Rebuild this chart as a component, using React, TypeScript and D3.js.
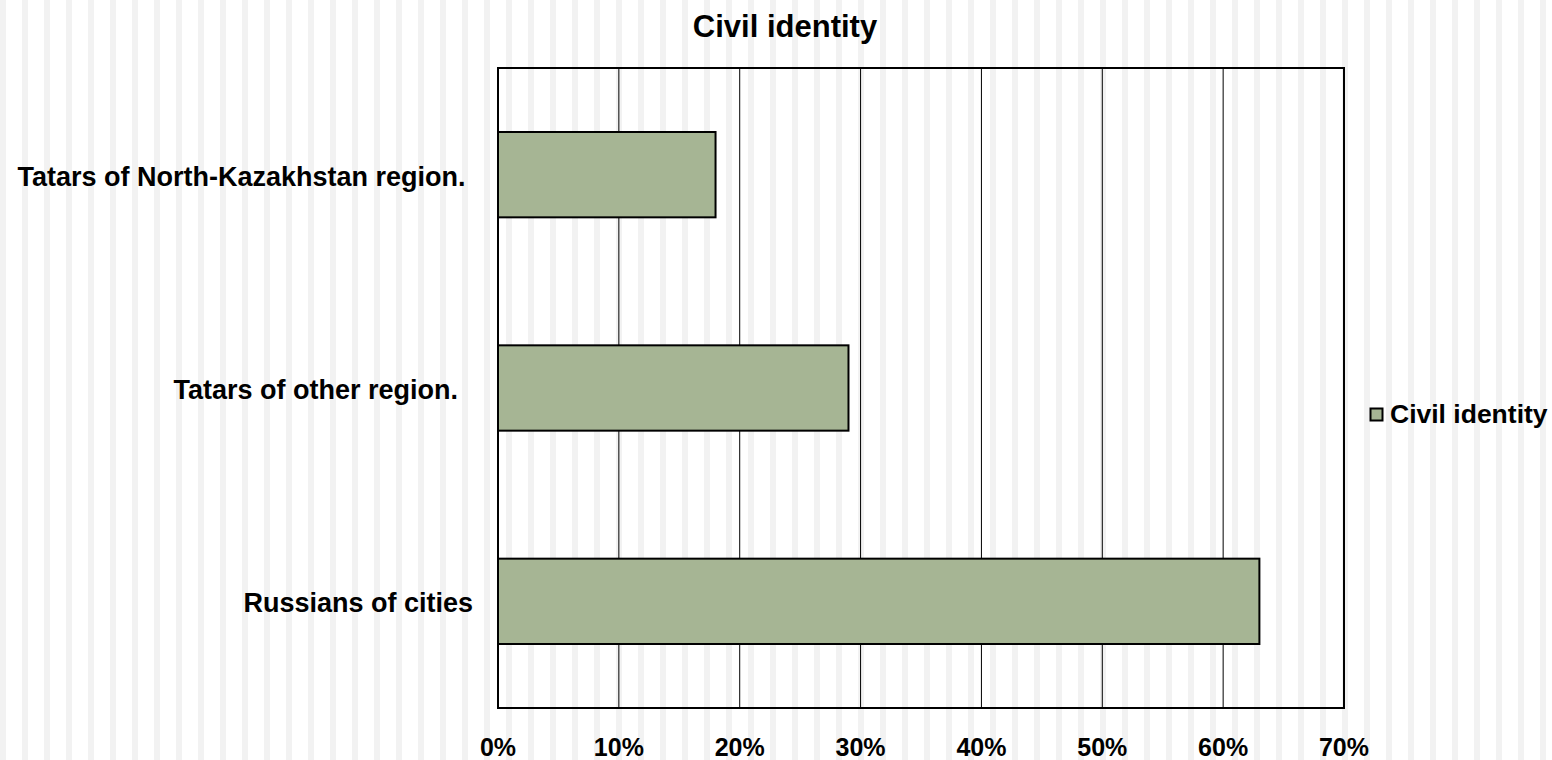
import React from "react";
import * as d3 from "d3";

const title = "Civil identity";
const seriesName = "Civil identity";
// Category names as in the source sheet (trailing spaces included)
const categories = ["Tatars of North-Kazakhstan region. ", "Tatars of other region.  ", "Russians of cities"];
const values = [0.18, 0.29, 0.63];
const xTicks = [0, 0.1, 0.2, 0.3, 0.4, 0.5, 0.6, 0.7];

const W = 1552;
const H = 760;
const plot = { left: 498, right: 1344, top: 68, bottom: 708 };
const font = "'Liberation Sans', Arial, sans-serif";
const barFill = "#a6b594";

export default function App() {
  const x = d3.scaleLinear().domain([0, 0.7]).range([plot.left, plot.right]);
  const y = d3
    .scaleBand<string>()
    .domain(categories)
    .range([plot.top, plot.bottom])
    .paddingInner(0.6)
    .paddingOuter(0.3);
  const fmt = d3.format(".0%");
  const stripes = d3.range(0, W, 22);

  return (
    <div style={{ position: "absolute", left: 0, top: 0 }}>
      <svg width={W} height={H} style={{ display: "block" }} fontFamily={font}>
        <rect x={0} y={0} width={W} height={H} fill="#ffffff" />
        {stripes.map((s) => (
          <rect key={s} x={s} y={0} width={6} height={H} fill="#f2f2f2" />
        ))}

        {/* vertical gridlines */}
        {xTicks.slice(1, -1).map((t) => (
          <line
            key={t}
            x1={x(t)}
            x2={x(t)}
            y1={plot.top}
            y2={plot.bottom}
            stroke="#000"
            strokeWidth={1}
          />
        ))}

        {/* bars */}
        {categories.map((c, i) => (
          <rect
            key={c}
            x={x(0)}
            y={y(c)}
            width={x(values[i]) - x(0)}
            height={y.bandwidth()}
            fill={barFill}
            stroke="#000"
            strokeWidth={2}
          />
        ))}

        {/* plot frame */}
        <rect
          x={plot.left}
          y={plot.top}
          width={plot.right - plot.left}
          height={plot.bottom - plot.top}
          fill="none"
          stroke="#000"
          strokeWidth={2}
        />

        {/* category labels */}
        {categories.map((c) => (
          <text
            key={c}
            x={473}
            y={(y(c) as number) + y.bandwidth() / 2 + 11}
            textAnchor="end"
            fontSize={27}
            fontWeight="bold"
            style={{ whiteSpace: "pre" }}
          >
            {c}
          </text>
        ))}

        {/* x tick labels */}
        {xTicks.map((t) => (
          <text
            key={t}
            x={x(t)}
            y={756}
            textAnchor="middle"
            fontSize={25}
            fontWeight="bold"
          >
            {fmt(t)}
          </text>
        ))}

        {/* title */}
        <text x={785} y={37} textAnchor="middle" fontSize={31} fontWeight="bold">
          {title}
        </text>

        {/* legend */}
        <rect x={1370.5} y={408.5} width={12} height={12} fill={barFill} stroke="#000" strokeWidth={2} />
        <text x={1390} y={423} fontSize={26.5} fontWeight="bold">
          {seriesName}
        </text>
      </svg>
    </div>
  );
}
